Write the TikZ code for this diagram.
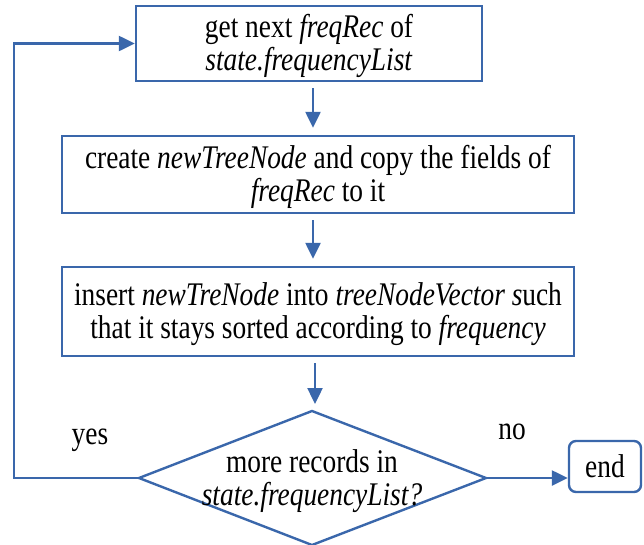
\documentclass[tikz,border=0pt]{standalone}
\usepackage{fontspec}
\setmainfont{Liberation Serif}[FakeStretch=0.83]
\usetikzlibrary{arrows.meta,calc}
\definecolor{flow}{HTML}{3A67AB}
% taller first line, so the text sits a little low in its box
\newcommand\firstline{\rule{0pt}{29pt}}
\begin{document}
\begin{tikzpicture}[x=1pt,y=-1pt,
  every node/.style={font=\fontsize{33}{33}\selectfont, align=center},
  box/.style={draw=flow, line width=2.4pt, inner sep=0pt},
  arr/.style={draw=flow, line width=2.4pt, -{Triangle[length=16pt,width=15pt]}},
  link/.style={draw=flow, line width=2.4pt}]
  \useasboundingbox (0,0) rectangle (644,544);

  % process boxes
  \node[box, minimum width=346pt, minimum height=75pt] (b1) at (309,43.5)
    {\firstline get next \textit{freqRec} of\\ \textit{state.frequencyList}};
  \node[box, minimum width=512pt, minimum height=77pt] (b2) at (318,174.5)
    {\firstline create \textit{newTreeNode} and copy the fields of\\ \textit{freqRec} to it};
  \node[box, minimum width=512pt, minimum height=89pt] (b3) at (318,311.5)
    {\firstline insert \textit{newTreNode} into \textit{treeNodeVector s}uch\\ that it stays sorted according to \textit{frequency}};

  % decision
  \coordinate (dt) at (312,411);
  \coordinate (dl) at (139,478);
  \coordinate (dr) at (486,478);
  \coordinate (db) at (312,545);
  \draw[link, line join=miter] (dt) -- (dr) -- (db) -- (dl) -- cycle;
  \node (q) at (312,478) {\firstline more records in\\ \textit{state.frequencyList?}};

  % terminal
  \node[box, rounded corners=7pt, minimum width=72pt, minimum height=51pt] (e) at (605,466.5) {end};

  % connectors
  \coordinate (ax) at (313,0);
  \coordinate (bx) at (315,0);
  \coordinate (lp) at (14,44);
  \draw[arr] ($(b1.south -| ax)+(0,6)$) -- ($(b2.north -| ax)+(0,-7)$);
  \draw[arr] ($(b2.south -| ax)+(0,6)$) -- ($(b3.north -| ax)+(0,-7)$);
  \draw[arr] ($(b3.south -| bx)+(0,6)$) -- ($(dt -| bx)+(0,-7)$);
  \draw[arr] (dl) -| (lp) |- (b1.west);
  \draw[arr] (dr) -- (dr -| e.west);

  % branch labels
  \node (yes) at (90,440) {yes};
  \node (no) at (512,432) {no};
\end{tikzpicture}
\end{document}
